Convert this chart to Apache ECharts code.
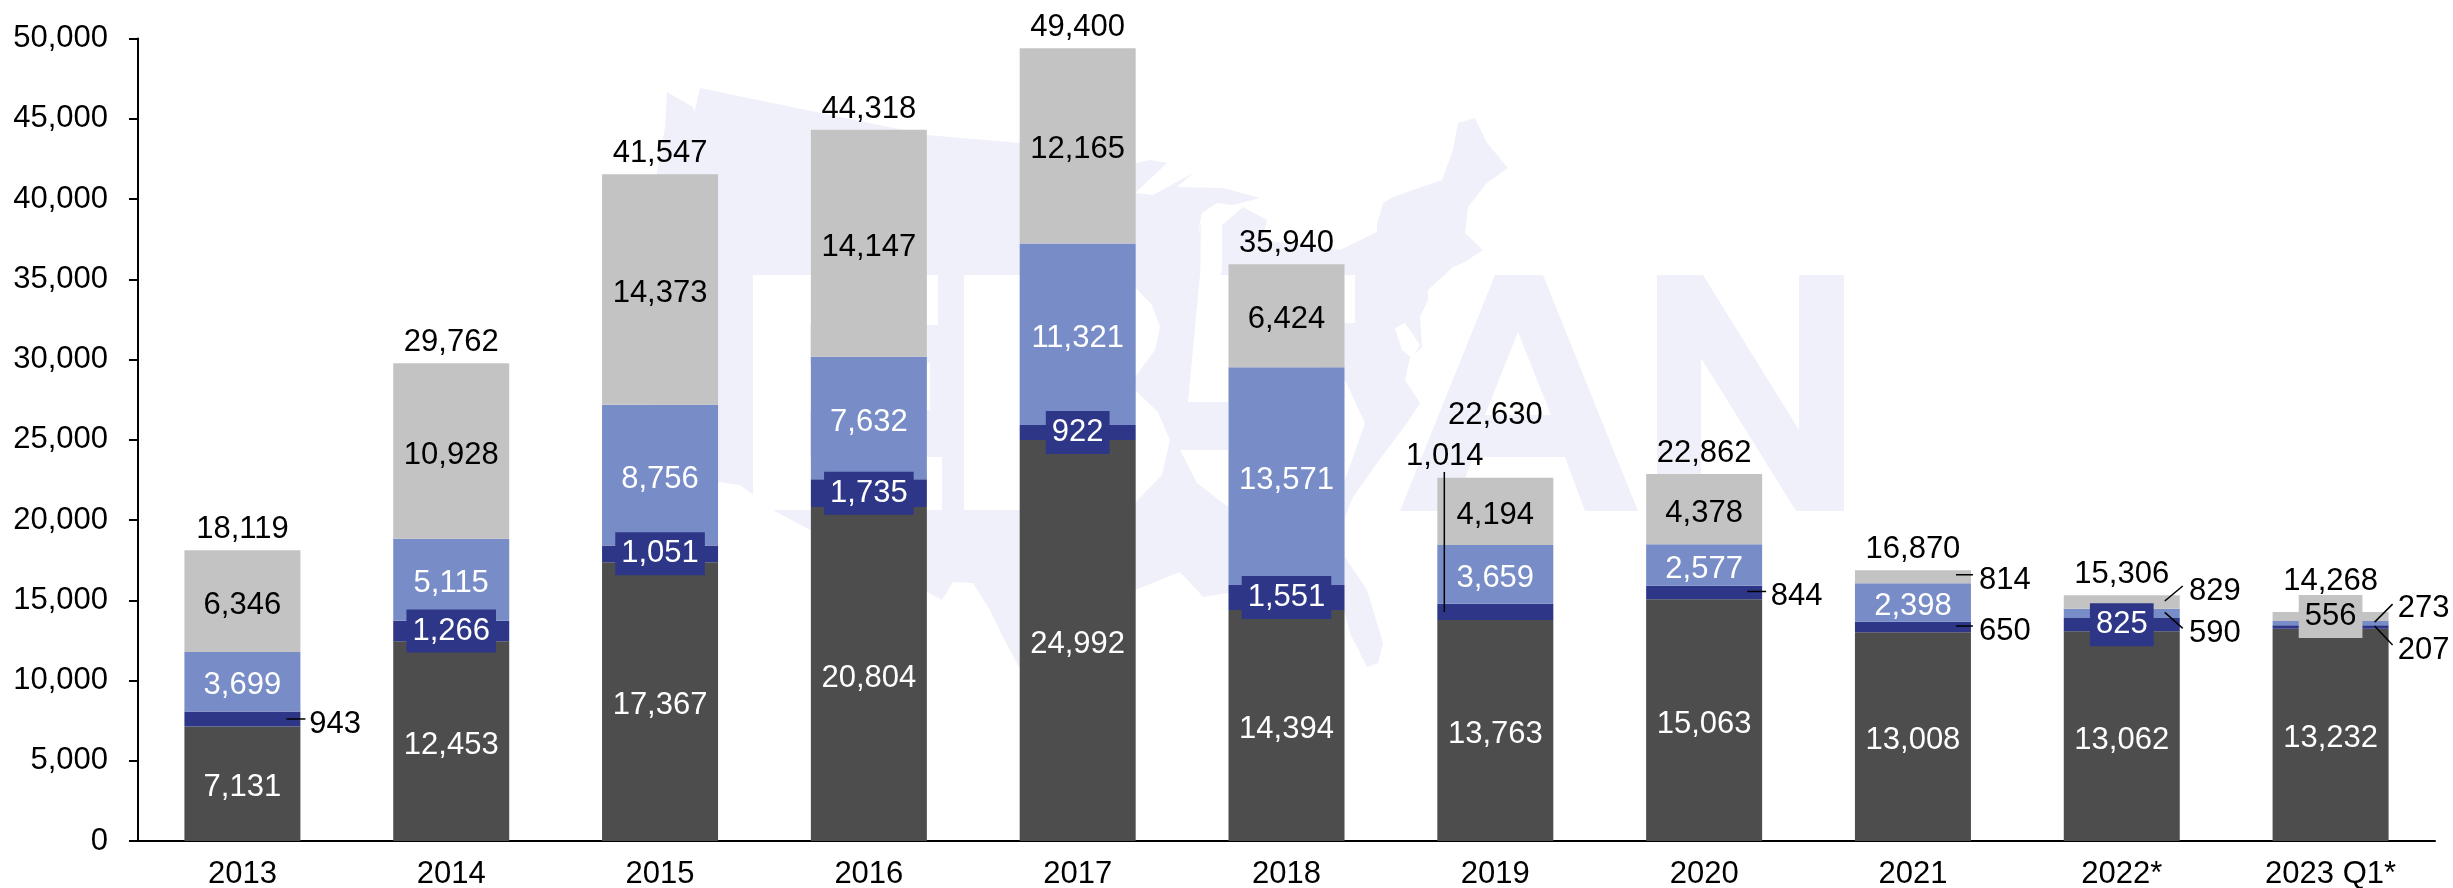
<!DOCTYPE html>
<html>
<head>
<meta charset="utf-8">
<style>html,body{margin:0;padding:0;background:#fff}#c{width:2453px;height:888px}</style>
<script src="https://cdn.jsdelivr.net/npm/echarts@6/dist/echarts.min.js"></script>
</head>
<body>
<div id="c"></div>
<script>
const categories = ['2013','2014','2015','2016','2017','2018','2019','2020','2021','2022*','2023 Q1*'];
const seriesDark  = [7131,12453,17367,20804,24992,14394,13763,15063,13008,13062,13232];
const seriesNavy  = [943,1266,1051,1735,922,1551,1014,844,650,825,207];
const seriesBlue  = [3699,5115,8756,7632,11321,13571,3659,2577,2398,590,273];
const seriesGrey  = [6346,10928,14373,14147,12165,6424,4194,4378,814,829,556];
const totals      = [18119,29762,41547,44318,49400,35940,22630,22862,16870,15306,14268];
const yTicks = {min:0, max:50000, interval:5000};

const FONT = '"Liberation Sans", Arial, sans-serif';
const FS = 31;
const C = {dark:'#4D4D4D', navy:'#2E3687', blue:'#788DC8', grey:'#C3C3C3', wm:'#F0F0FB'};
const fmt = v => Number(v).toLocaleString('en-US');

// label placement overrides: series -> category -> [dx, dy]
const moved = {
  dark:{},
  navy:{0:[92.6,1], 6:[-50.5,-160], 7:[92.5,0], 8:[92,0], 10:[93,19]},
  blue:{9:[93,16], 10:[93,-19]},
  grey:{8:[92,0], 9:[93,-15]}
};
const boxed = {navy:[1,2,3,4,5,9], grey:[10], blue:[], dark:[]};
const labelColor = {dark:'#fff', navy:'#fff', blue:'#fff', grey:'#000'};
const TEXT_DY = 4;

function barSeries(key, values){
  return {
    type:'bar', stack:'all', name:key, z:2, barWidth:116,
    itemStyle:{color:C[key]},
    data: values.map((v,i)=>{
      const m = moved[key][i];
      const lab = {show:true, position:'inside', color:labelColor[key], fontFamily:FONT, fontSize:FS,
                   lineHeight:35, offset:[0,TEXT_DY], formatter:p=>fmt(p.value)};
      if(m){ lab.offset=[m[0],m[1]+TEXT_DY]; lab.color='#000'; }
      if(boxed[key].includes(i)){ lab.backgroundColor=C[key]; lab.padding=[8,6,0,6]; lab.offset=[0,0]; }
      return {value:v, label:lab};
    })
  };
}

// leader lines: [category, segment mid value, dx1, dy1, dx2, dy2]
const mid = (lower, v) => lower + v/2;
const navyBase = seriesDark;
const blueBase = seriesDark.map((v,i)=>v+seriesNavy[i]);
const greyBase = blueBase.map((v,i)=>v+seriesBlue[i]);
const leaders = [
  [0, mid(navyBase[0],seriesNavy[0]), 44,0,63,0],
  [6, mid(navyBase[6],seriesNavy[6]), -51,0,-51,-140],
  [7, mid(navyBase[7],seriesNavy[7]), 43,-1,62,-1],
  [8, mid(greyBase[8],seriesGrey[8]), 43,-2,60,-2],
  [8, mid(navyBase[8],seriesNavy[8]), 43,-1,60,-1],
  [9, mid(greyBase[9],seriesGrey[9]), 43,-1,61,-16],
  [9, mid(blueBase[9],seriesBlue[9]), 43,-1,61,15],
  [10, mid(blueBase[10],seriesBlue[10]), 44,-1,62,-19],
  [10, mid(navyBase[10],seriesNavy[10]), 44,-1,62,18]
];
const totalOffset = {6:[0,-42], 10:[0,-10]};

// watermark artwork (decorative backdrop, page pixels)
const wmMap = [[667,92],[693,107],[695,115],[692,123],[700,88],[927,135],[1020,143],[1135,163],[1150,160],[1167,163],[1135,193],[1153,195],[1193,173],[1177,187],[1223,188],[1260,198],[1233,205],[1217,203],[1202,213],[1197,238],[1201,223],[1200,300],[1218,285],[1222,270],[1222,225],[1243,207],[1267,220],[1262,240],[1340,250],[1377,232],[1377,225],[1383,203],[1393,197],[1442,180],[1453,150],[1458,123],[1475,118],[1487,143],[1508,168],[1487,183],[1468,207],[1465,233],[1483,250],[1463,263],[1453,267],[1428,290],[1428,300],[1420,317],[1422,347],[1410,358],[1405,380],[1420,403],[1407,423],[1377,463],[1353,497],[1345,517],[1345,557],[1367,590],[1383,643],[1378,663],[1367,667],[1350,633],[1345,613],[1300,590],[1228,593],[1203,597],[1197,590],[1180,572],[1135,590],[1100,620],[1060,680],[1019,667],[1003,637],[990,610],[973,583],[953,582],[942,600],[927,592],[880,570],[810,530],[773,510],[740,485],[718,482],[690,470],[650,400],[640,300],[657,173],[665,127]];
const wmE = [[753,275],[938,275],[938,325],[810,325],[810,363],[930,363],[930,410],[810,410],[810,457],[942,457],[942,510],[753,510]];
const wmB = [[964,275],[1100,275],[1135,287],[1152,305],[1160,327],[1155,350],[1135,377],[1125,385],[1135,390],[1158,412],[1170,440],[1162,475],[1135,503],[1100,510],[964,510]];
const wm5 = [[1200,275],[1355,275],[1355,323],[1250,323],[1240,355],[1290,350],[1345,380],[1365,423],[1345,480],[1300,510],[1250,513],[1228,507],[1197,483],[1180,450],[1228,450],[1228,402],[1188,402]];
const wmA = [[1495,275],[1543,275],[1638,511],[1585,511],[1565,457],[1473,457],[1453,511],[1400,511]];
const wmAHole = [[1518,332],[1551,415],[1485,415]];
const wmN = [[1657,275],[1703,275],[1799,430],[1799,275],[1844,275],[1844,511],[1796,511],[1701,358],[1701,511],[1657,511]];
const wmBay = [[1395,328],[1405,323],[1420,345],[1412,358],[1402,350]];
const poly = (pts,fill)=>({type:'polygon', z:-10, silent:true, shape:{points:pts}, style:{fill}});

const chart = echarts.init(document.getElementById('c'), null, {renderer:'canvas'});
chart.setOption({
  animation:false,
  backgroundColor:'#fff',
  graphic:{elements:[
    poly(wmMap,C.wm), poly(wmE,'#fff'), poly(wmB,'#fff'), poly(wm5,'#fff'), poly(wmBay,'#fff'),
    poly(wmA,C.wm), poly(wmAHole,'#fff'), poly(wmN,C.wm)
  ]},
  grid:{left:138, right:18, top:38.5, bottom:47, containLabel:false, outerBoundsMode:'none'},
  xAxis:{type:'category', data:categories,
    axisLine:{lineStyle:{color:'#000', width:2}}, axisTick:{show:false},
    axisLabel:{color:'#000', fontFamily:FONT, fontSize:FS, margin:18, interval:0}},
  yAxis:{type:'value', min:yTicks.min, max:yTicks.max, interval:yTicks.interval,
    splitLine:{show:false},
    axisLine:{show:true, lineStyle:{color:'#000', width:2}},
    axisTick:{show:true, length:9, lineStyle:{color:'#000', width:2}},
    axisLabel:{color:'#000', fontFamily:FONT, fontSize:FS, margin:30, padding:[6,0,0,0], formatter:v=>fmt(v)}},
  series:[
    barSeries('dark',seriesDark), barSeries('navy',seriesNavy),
    barSeries('blue',seriesBlue), barSeries('grey',seriesGrey),
    {type:'custom', z:5, clip:false, silent:true, encode:{x:0,y:1}, data:leaders,
     renderItem:(params,api)=>{
       const p = api.coord([api.value(0),api.value(1)]);
       return {type:'line', shape:{x1:p[0]+api.value(2),y1:p[1]+api.value(3),x2:p[0]+api.value(4),y2:p[1]+api.value(5)},
               style:{stroke:'#000', lineWidth:1.5}};
     }},
    {type:'scatter', z:6, symbolSize:0, silent:true, itemStyle:{opacity:1},
     data:totals.map((v,i)=>({value:[i,v], label:{show:true, position:'top', distance:3, color:'#000', opacity:1,
        fontFamily:FONT, fontSize:FS, lineHeight:35, offset:totalOffset[i]||[0,0], formatter:p=>fmt(p.value[1])}}))}
  ]
});
</script>
</body>
</html>
